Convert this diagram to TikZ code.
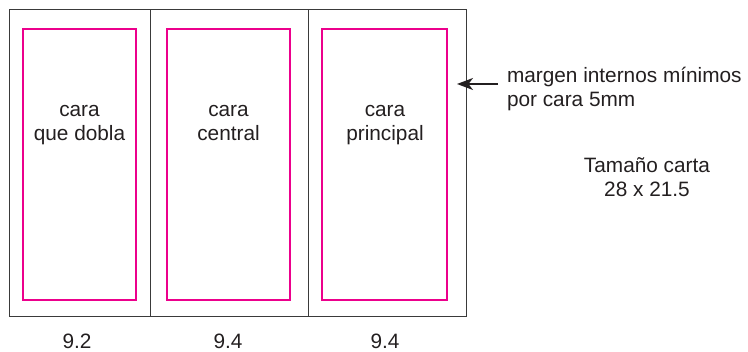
\documentclass[tikz,border=0pt]{standalone}
\usepackage{fontspec}
\setmainfont{Liberation Sans}
\usetikzlibrary{arrows.meta}
\definecolor{ink}{HTML}{231F20}
\definecolor{mag}{HTML}{EC008C}
\definecolor{frame}{HTML}{3A3A3A}
\begin{document}
\begin{tikzpicture}[x=1pt,y=-1pt,
  every node/.style={font=\fontsize{20.8}{24.5}\selectfont, text=ink, inner sep=0pt, outer sep=0pt},
  outerline/.style={draw=frame, line width=1pt},
  marginbox/.style={draw=mag, line width=1.1pt},
  lbl/.style={align=center, anchor=base},
  pointer/.style={draw=ink, line width=1.6pt, -{Stealth[length=16pt,width=12pt,inset=4.5pt]}}]
\useasboundingbox (0,0) rectangle (748,352);
% sheet and folds
\draw[outerline] (9,10) rectangle (466,317);
\draw[outerline] (150,10) -- (150,317);
\draw[outerline] (308,10) -- (308,317);
% inner margins
\draw[marginbox] (23,29) rectangle (136,300);
\draw[marginbox] (167,29) rectangle (290,300);
\draw[marginbox] (322,29) rectangle (447,300);
% panel labels (anchor = baseline of last line)
\node[lbl] (p1) at (79.5,141) {cara\\que dobla};
\node[lbl] (p2) at (228.5,141) {cara\\central};
\node[lbl] (p3) at (385,141) {cara\\principal};
% widths
\node[lbl] (w1) at (77,349) {9.2};
\node[lbl] (w2) at (228,349) {9.4};
\node[lbl] (w3) at (385,349) {9.4};
% note
\node[align=left, anchor=base west] (note) at (507,107) {margen internos mínimos\\por cara 5mm};
\coordinate (tip) at (457,84);
\draw[pointer] (note.west |- 0,84) ++(-9,0) coordinate (tail) -- (tip);
\node[lbl] (size) at (647,197) {Tamaño carta\\28 x 21.5};
\end{tikzpicture}
\end{document}
